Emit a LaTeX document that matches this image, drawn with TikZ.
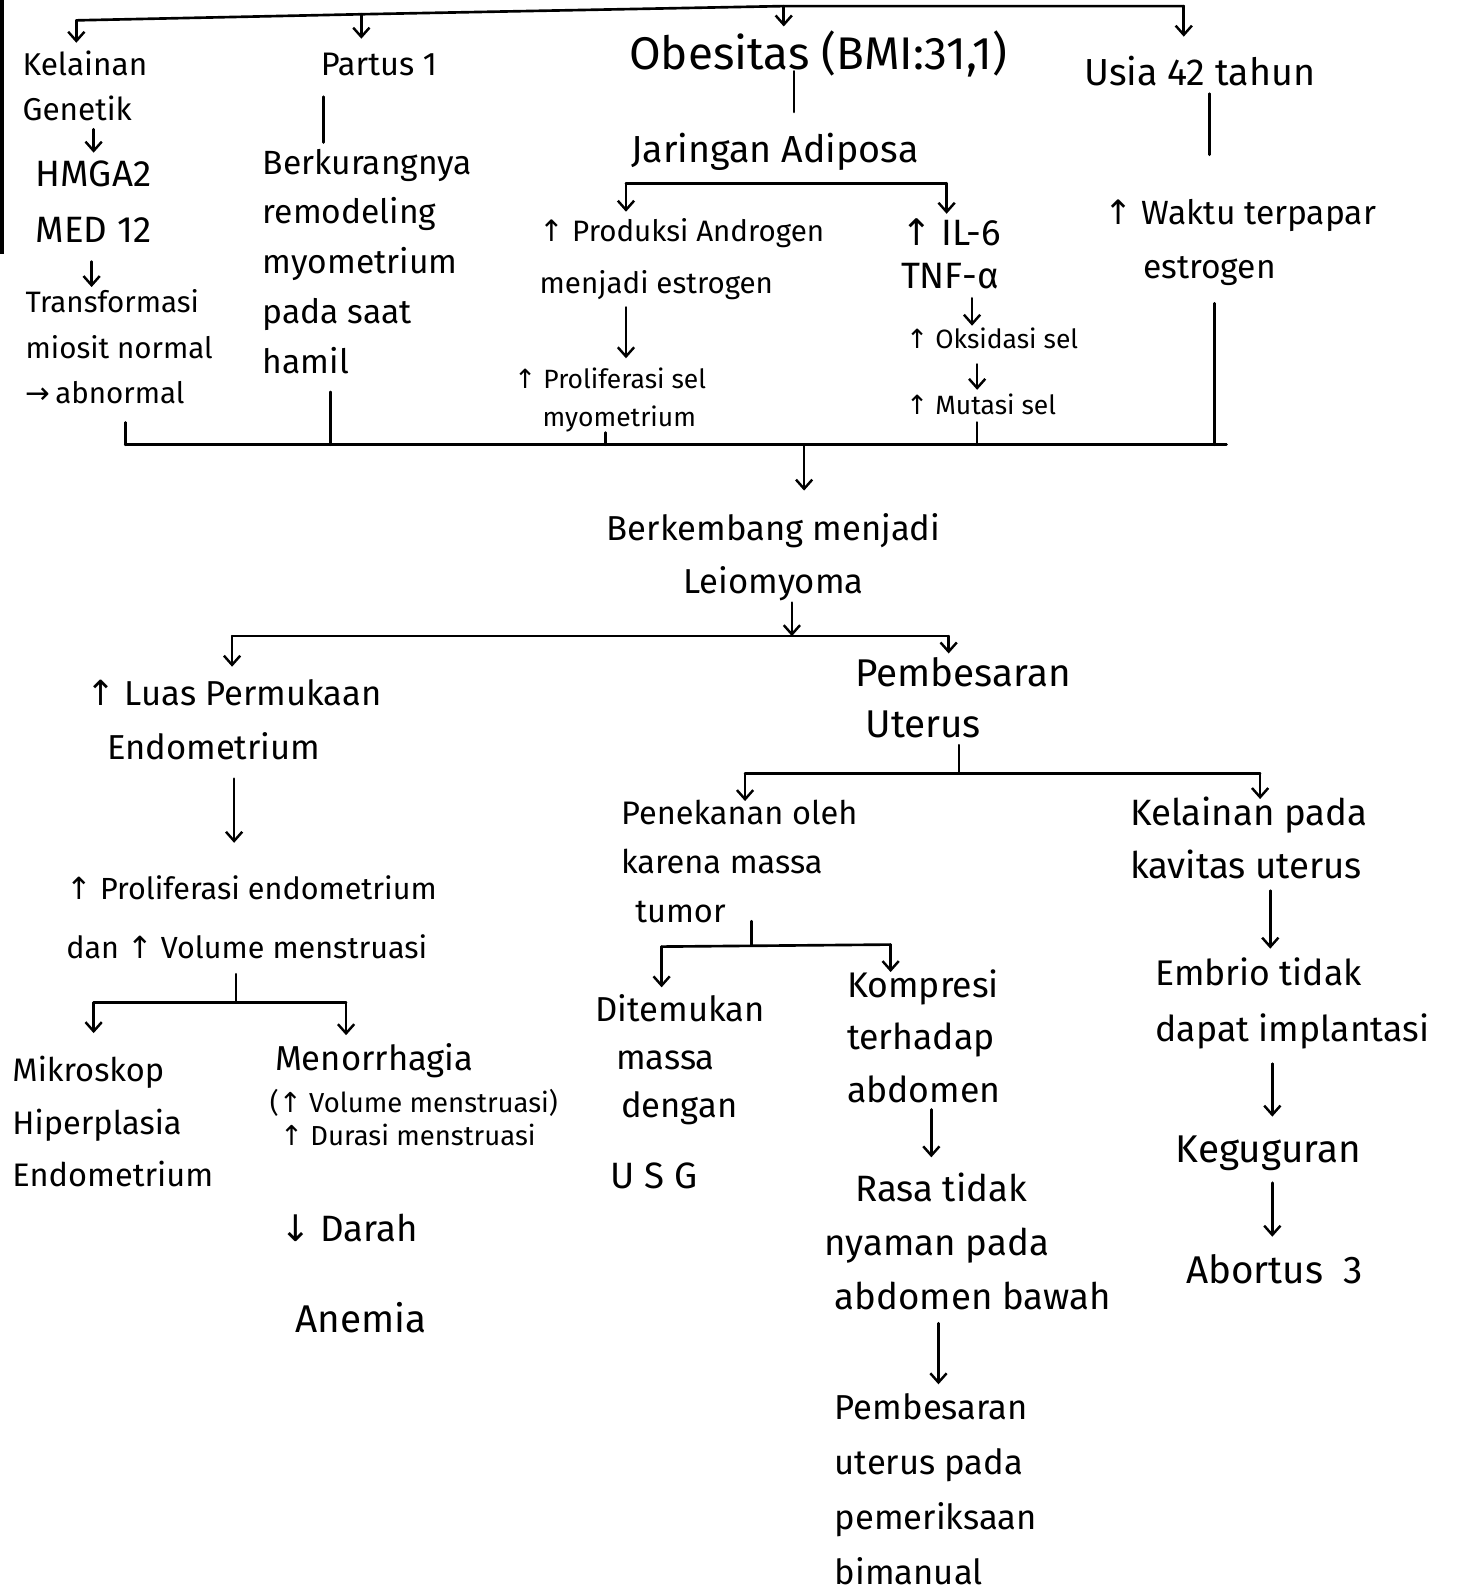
\documentclass[tikz,border=0pt]{standalone}
\usepackage{fontspec}
\setmainfont{Fira Sans}
\newfontfamily\arwfont{DejaVu Sans}
\usetikzlibrary{arrows.meta}
\newcommand\myfs[2]{\fontsize{#1}{#2}\selectfont}
\newcommand\uparr{{\arwfont ↑}}
\newcommand\dnarr{{\arwfont ↓}}
\newcommand\rtarr{{\arwfont →}}
\begin{document}
\begin{tikzpicture}[x=1pt,y=-1pt,
  ln/.style={line width=2.6pt, line cap=round, line join=round},
  arr/.style={ln, -{Straight Barb[length=9pt,width=16pt,line width=2.4pt]}},
  txt/.style={anchor=north west, inner sep=0pt, align=left},
]
\useasboundingbox (0,0) rectangle (1455,1568);
\fill[black] (0,0) rectangle (4,250);

% ---------- level 1 ----------
\node[txt, font=\myfs{31}{44}] (kel) at (22,50) {Kelainan\\Genetik};
\node[txt, font=\myfs{36}{55}] (hmg) at (35,158) {HMGA2\\MED 12};
\node[txt, font=\myfs{29}{45}] (tra) at (25,284) {Transformasi\\miosit normal\\\rtarr\,abnormal};
\node[txt, font=\myfs{32}{52}] (par) at (315,52) {Partus 1};
\node[txt, font=\myfs{33}{49}] (ber) at (258,146) {Berkurangnya\\remodeling\\myometrium\\pada saat\\hamil};
\node[txt, font=\myfs{45}{52}] (obe) at (618,30) {Obesitas (BMI:31,1)};
\node[txt, font=\myfs{37}{52}] (usi) at (1065,55) {Usia 42 tahun};
\node[txt, font=\myfs{37}{52}] (jar) at (620,131) {Jaringan Adiposa};
\node[txt, font=\myfs{29}{52}] (pro) at (530,214) {\uparr\ Produksi Androgen\\menjadi estrogen};
\node[txt, font=\myfs{26}{38}] (prs) at (505,361) {\uparr\ Proliferasi sel\\\hspace*{28pt}myometrium};
\node[txt, font=\myfs{36}{42}] (il6) at (885,215) {\uparr\ IL-6\\TNF-α};
\node[txt, font=\myfs{26}{40}] (oks) at (890,322) {\uparr\ Oksidasi sel};
\node[txt, font=\myfs{26}{40}] (mut) at (890,387) {\uparr\ Mutasi sel};
\node[txt, font=\myfs{33}{53}] (wak) at (1085,196) {\uparr\ Waktu terpapar\\\hspace*{38pt}estrogen};

% ---------- level 2 ----------
\node[anchor=north, inner sep=0pt, align=center, font=\myfs{34}{52}] (lei) at (760,504) {Berkembang menjadi\\Leiomyoma};
\node[txt, font=\myfs{34}{53}] (lua) at (85,667) {\uparr\ Luas Permukaan\\\hspace*{20pt}Endometrium};
\node[txt, font=\myfs{30}{58}] (ple) at (65,860) {\uparr\ Proliferasi endometrium\\dan \uparr\ Volume menstruasi};
\node[txt, font=\myfs{32}{52}] (mik) at (12,1037) {Mikroskop\\Hiperplasia\\Endometrium};
\node[txt, font=\myfs{34}{52}] (men) at (270,1025) {Menorrhagia};
\node[txt, font=\myfs{27}{32}] (vol) at (265,1070) {(\uparr\ Volume menstruasi)\\\hspace*{10pt}\uparr\ Durasi menstruasi};
\node[txt, font=\myfs{36}{52}] (dar) at (275,1193) {\dnarr\ Darah};
\node[txt, font=\myfs{38}{52}] (ane) at (290,1279) {Anemia};

\node[txt, font=\myfs{38}{50}] (pem) at (840,646) {Pembesaran\\\hspace*{10pt}Uterus};
\node[txt, font=\myfs{32}{48}] (pen) at (610,786) {Penekanan oleh\\karena massa\\\hspace*{14pt}tumor};
\node[txt, font=\myfs{34}{47}] (dit) at (585,977) {Ditemukan\\\hspace*{20pt}massa\\\hspace*{25pt}dengan};
\node[txt, font=\myfs{36}{52}] (usg) at (600,1142) {U S G};
\node[txt, font=\myfs{35}{52}] (kom) at (832,952) {Kompresi\\terhadap\\abdomen};
\node[txt, font=\myfs{36}{53}] (ras) at (810,1152) {\hspace*{30pt}Rasa tidak\\nyaman pada\\\hspace*{10pt}abdomen bawah};
\node[txt, font=\myfs{34}{54}] (pbu) at (820,1369) {Pembesaran\\uterus pada\\pemeriksaan\\bimanual};
\node[txt, font=\myfs{36}{52}] (kpd) at (1110,783) {Kelainan pada\\kavitas uterus};
\node[txt, font=\myfs{35}{55}] (emb) at (1135,941) {Embrio tidak\\dapat implantasi};
\node[txt, font=\myfs{38}{52}] (keg) at (1155,1116) {Keguguran};
\node[txt, font=\myfs{38}{52}] (abo) at (1165,1232) {Abortus\ \ 3};

% ---------- connector points ----------
\coordinate (t0) at (75,20);   \coordinate (t1) at (355,14);
\coordinate (t2) at (770,6);   \coordinate (t3) at (1163,6);
\coordinate (ja) at (615,180); \coordinate (jb) at (930,180);
\coordinate (b0) at (123,437); \coordinate (b1) at (325,437);
\coordinate (b2) at (595,437); \coordinate (bm) at (790,437);
\coordinate (b3) at (960,437); \coordinate (b4) at (1193,437);
\coordinate (be) at (1205,437);
\coordinate (la) at (228,625); \coordinate (lm) at (778,625); \coordinate (lb) at (932,625);
\coordinate (pa) at (92,985);  \coordinate (pm) at (232,985); \coordinate (pb) at (340,985);
\coordinate (ua) at (732,760); \coordinate (um) at (942,760); \coordinate (ub) at (1238,760);
\coordinate (ka) at (650,930); \coordinate (km) at (738,929); \coordinate (kb) at (875,928);

% top bus
\draw[ln] (t0) -- (t1) -- (t2) -- (t3);
\draw[arr] (t0) -- (75,42);
\draw[arr] (t1) -- (355,38);
\draw[arr] (t2) -- (770,26);
\draw[arr] (t3) -- (1163,36);

% column 1
\draw[arr] (92,127) -- (92,150);
\draw[arr] (90,257) -- (90,282);
% column 2
\draw[ln] (318,95) -- (318,140);
% column 3
\draw[ln] (780,70) -- (780,110);
\draw[ln] (ja) -- (jb);
\draw[arr] (ja) -- (615,208);
\draw[arr] (jb) -- (930,210);
\draw[arr] (615,302) -- (615,352);
\draw[arr] (955,293) -- (955,320);
\draw[arr] (960,358) -- (960,383);
% column 4
\draw[ln] (1188,92) -- (1188,152);

% bottom bus
\draw[ln] (b0) -- (be);
\draw[ln] (123,415) -- (b0);
\draw[ln] (325,385) -- (b1);
\draw[ln] (595,425) -- (b2);
\draw[ln] (960,415) -- (b3);
\draw[ln] (1193,298) -- (b4);
\draw[arr] (bm) -- (790,482);

% leiomyoma split
\draw[arr] (778,592) -- (lm);
\draw[ln] (la) -- (lb);
\draw[arr] (la) -- (228,655);
\draw[arr] (lb) -- (932,642);

% left branch
\draw[arr] (230,765) -- (230,828);
\draw[ln] (232,957) -- (pm);
\draw[ln] (pa) -- (pb);
\draw[arr] (pa) -- (92,1015);
\draw[arr] (pb) -- (340,1017);

% right branch
\draw[ln] (942,732) -- (um);
\draw[ln] (ua) -- (ub);
\draw[arr] (ua) -- (732,787);
\draw[arr] (ub) -- (1238,785);
\draw[ln] (738,905) -- (km);
\draw[ln] (ka) -- (kb);
\draw[arr] (ka) -- (650,970);
\draw[arr] (kb) -- (875,955);
\draw[arr] (915,1090) -- (915,1137);
\draw[arr] (922,1300) -- (922,1360);
\draw[arr] (1248,875) -- (1248,932);
\draw[arr] (1250,1045) -- (1250,1097);
\draw[arr] (1250,1162) -- (1250,1215);
\end{tikzpicture}
\end{document}
